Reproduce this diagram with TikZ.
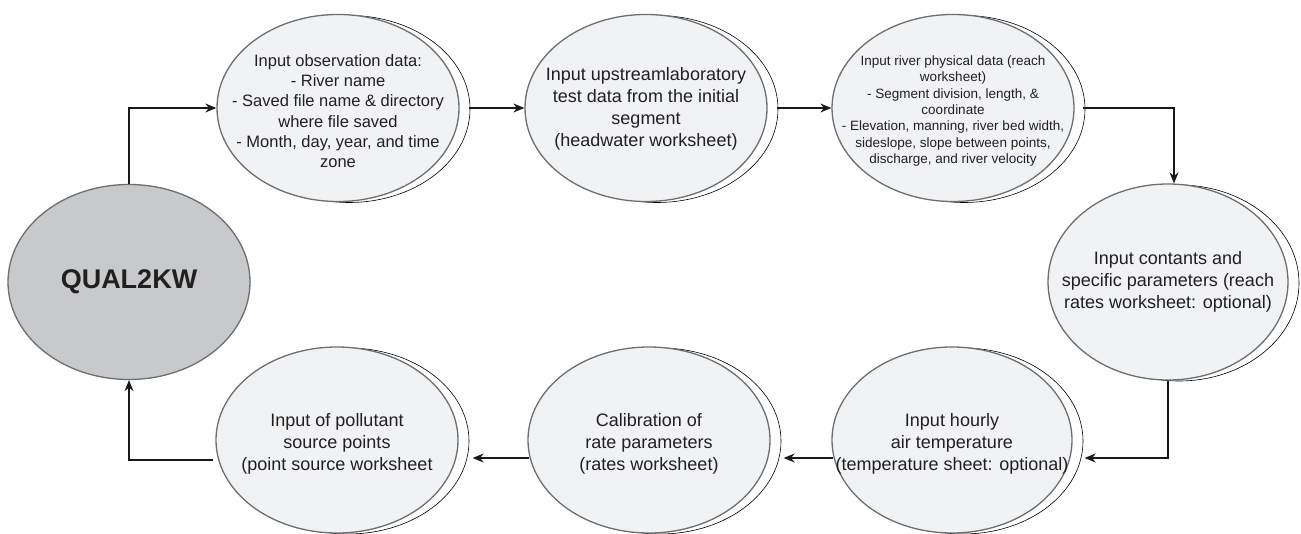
\documentclass[tikz,border=0pt]{standalone}
\usepackage{fontspec}
\setmainfont{Liberation Sans}
\usetikzlibrary{shapes.geometric,arrows.meta,shadows}
\definecolor{efill}{HTML}{F1F2F4}
\definecolor{qfill}{HTML}{C8C9CB}
\definecolor{edraw}{HTML}{6D6E71}
\definecolor{tcol}{HTML}{231F20}
\tikzset{
  ell/.style={ellipse, draw=edraw, line width=1.3pt, fill=efill, inner sep=0pt,
    minimum width=242pt, minimum height=187pt,
    copy shadow={shadow xshift=11pt, shadow yshift=-1pt, draw=black, fill=white, line width=0.6pt}},
  qell/.style={ellipse, draw=edraw, line width=1.3pt, fill=qfill, inner sep=0pt,
    minimum width=242pt, minimum height=195pt},
  txt/.style={align=center, text=tcol, inner sep=0pt, font=\fontsize{18}{22}\selectfont},
  conn/.style={draw=black!90, line width=1.3pt, -{Stealth[length=11pt,width=9pt]}},
}
\begin{document}
\begin{tikzpicture}[x=1pt,y=-1pt]
\useasboundingbox (0,0) rectangle (1301,534);
\node[qell] (q) at (129,282) {};
\node[txt, font=\fontsize{27}{30}\bfseries] (tq) at (q) {QUAL2KW};
\node[ell] (e1) at (338,108) {};
\node[ell] (e2) at (646,108) {};
\node[ell] (e3) at (953,108) {};
\node[ell, minimum width=240pt, minimum height=196pt] (e4) at (1168,282) {};
\node[ell, minimum width=240pt, minimum height=186pt] (e5) at (952,440) {};
\node[ell, minimum width=242pt, minimum height=186pt] (e6) at (649,440) {};
\node[ell, minimum width=242pt, minimum height=186pt] (e7) at (337,440) {};
\node[txt, font=\fontsize{16.5}{20.3}\selectfont] (t1) at ([yshift=-3pt]e1) {Input observation data:\\- River name\\- Saved file name \& directory\\where file saved\\- Month, day, year, and time\\zone};
\node[txt] (t2) at ([yshift=-1pt]e2) {Input upstreamlaboratory\\test data from the initial\\segment\\(headwater worksheet)};
\node[txt, font=\fontsize{13.5}{16.3}\selectfont] (t3) at ([yshift=-3pt]e3) {Input river physical data (reach\\worksheet)\\- Segment division, length, \&\\coordinate\\- Elevation, manning, river bed width,\\sideslope, slope between points,\\discharge, and river velocity};
\node[txt] (t4) at (e4) {Input contants and\\specific parameters (reach\\rates worksheet: optional)};
\node[txt] (t5) at ([yshift=-4pt]e5) {Input hourly\\air temperature\\(temperature sheet: optional)};
\node[txt] (t6) at ([yshift=-4pt]e6) {Calibration of\\rate parameters\\(rates worksheet)};
\node[txt] (t7) at ([yshift=-4pt]e7) {Input of pollutant\\source points\\(point source worksheet};
\coordinate (c4) at ([xshift=6pt]e4.north);
\draw[conn] (q.north) |- (e1.west);
\draw[conn] ([xshift=9pt]e1.east) -- (e2.west);
\draw[conn] ([xshift=9pt]e2.east) -- (e3.west);
\draw[conn] ([xshift=8pt]e3.east) -| (c4);
\draw[conn] (e4.south) |- ([xshift=12pt,yshift=-18pt]e5.east);
\draw[conn] ([xshift=2pt,yshift=-18pt]e5.west) -- ([xshift=13pt,yshift=-18pt]e6.east);
\draw[conn] ([xshift=2pt,yshift=-18pt]e6.west) -- ([xshift=14pt,yshift=-18pt]e7.east);
\draw[conn] ([xshift=-2pt,yshift=-20pt]e7.west) -| (q.south);
\end{tikzpicture}
\end{document}
